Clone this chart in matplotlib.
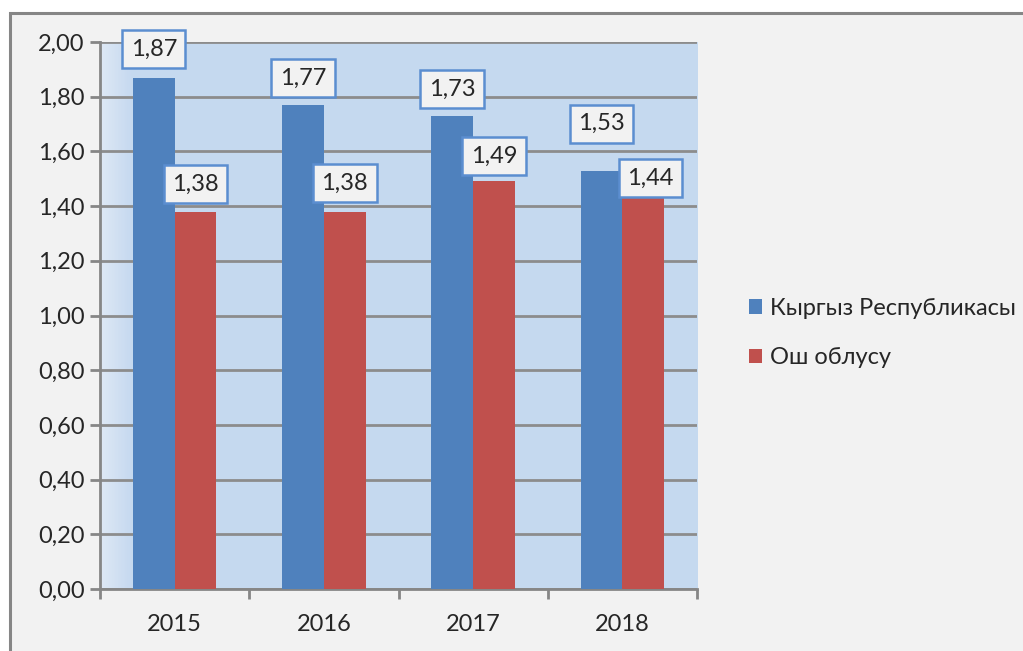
import numpy as np
import matplotlib.pyplot as plt
from matplotlib.patches import Rectangle

years = ['2015', '2016', '2017', '2018']
kyrgyz = [1.87, 1.77, 1.73, 1.53]
osh = [1.38, 1.38, 1.49, 1.44]
series_names = ['Кыргыз Республикасы', 'Ош облусу']

# label box centres (data coords), moved like in the original
kyrgyz_lbl_y = [1.973, 1.868, 1.828, 1.702]
osh_lbl_y = [1.481, 1.483, 1.583, 1.501]
osh_lbl_dx = [0, 0, 0, 0.047]

blue = '#4f81bd'
red = '#c0504d'

plt.rcParams['font.family'] = ['Lato', 'DejaVu Sans']
fs = 17

fig = plt.figure(figsize=(10.23, 6.51), dpi=100)
fig.patch.set_facecolor('white')
# chart frame
frame = Rectangle((10 / 1023, -0.05), 1.1, (651 - 13) / 651 + 0.05,
                  transform=fig.transFigure, facecolor='#f2f2f2',
                  edgecolor='#868686', lw=2.2, zorder=-10)
fig.add_artist(frame)

ax = fig.add_axes([100 / 1023, 1 - 589 / 651, 597 / 1023, 547 / 651])
ax.set_facecolor('none')
ax.set_zorder(1)

x = np.arange(len(years))
w = 0.28
ax.set_xlim(-0.5, 3.5)
ax.set_ylim(0, 2.0)

# plot area gradient
grad = np.linspace(0, 1, 200)
grad = np.clip(grad / 0.05, 0, 1)
c0 = np.array([0.87, 0.91, 0.96])
c1 = np.array([0.776, 0.851, 0.941])
img = c0[None, :] * (1 - grad[:, None]) + c1[None, :] * grad[:, None]
ax.imshow(img[None, :, :], extent=[-0.5, 3.5, 0, 2.0], aspect='auto', zorder=0)

ax.set_yticks(np.arange(0, 2.01, 0.2))
ax.yaxis.grid(True, color='#8c8c8c', lw=2)
ax.set_axisbelow(True)

ax.bar(x - w / 2, kyrgyz, w, color=blue, label=series_names[0], zorder=3)
ax.bar(x + w / 2, osh, w, color=red, label=series_names[1], zorder=3)

box = dict(boxstyle='square,pad=0.36', facecolor='#f2f2f2', edgecolor='#5b8ed0', lw=1.8)
for i in range(len(years)):
    ax.text(x[i] - w / 2, kyrgyz_lbl_y[i], f'{kyrgyz[i]:.2f}'.replace('.', ','),
            ha='center', va='center', fontsize=fs, color='#262626', bbox=box, zorder=5)
    ax.text(x[i] + w / 2 + osh_lbl_dx[i], osh_lbl_y[i], f'{osh[i]:.2f}'.replace('.', ','),
            ha='center', va='center', fontsize=fs, color='#262626', bbox=box, zorder=5)

ax.set_yticklabels([f'{v:.2f}'.replace('.', ',') for v in np.arange(0, 2.01, 0.2)])
ax.set_xticks(x)
ax.set_xticklabels(years)
ax.set_xticks(np.arange(-0.5, 3.6, 1), minor=True)
ax.tick_params(axis='x', which='major', length=0, pad=18, labelsize=fs, colors='#262626')
ax.tick_params(axis='x', which='minor', length=7, width=2, color='#868686')
ax.tick_params(axis='y', length=7, width=2, color='#868686', pad=4, labelsize=fs, labelcolor='#262626')

for s in ['top', 'right']:
    ax.spines[s].set_visible(False)
for s in ['left', 'bottom']:
    ax.spines[s].set_color('#868686')
    ax.spines[s].set_linewidth(2)

ax.legend(loc='center left', bbox_to_anchor=(728 / 1023, 1 - 333 / 651),
          bbox_transform=fig.transFigure, frameon=False, fontsize=fs,
          handlelength=0.55, handleheight=0.55, handletextpad=0.35, labelspacing=1.2,
          labelcolor='#262626')

fig.savefig('out.png', dpi=100)
